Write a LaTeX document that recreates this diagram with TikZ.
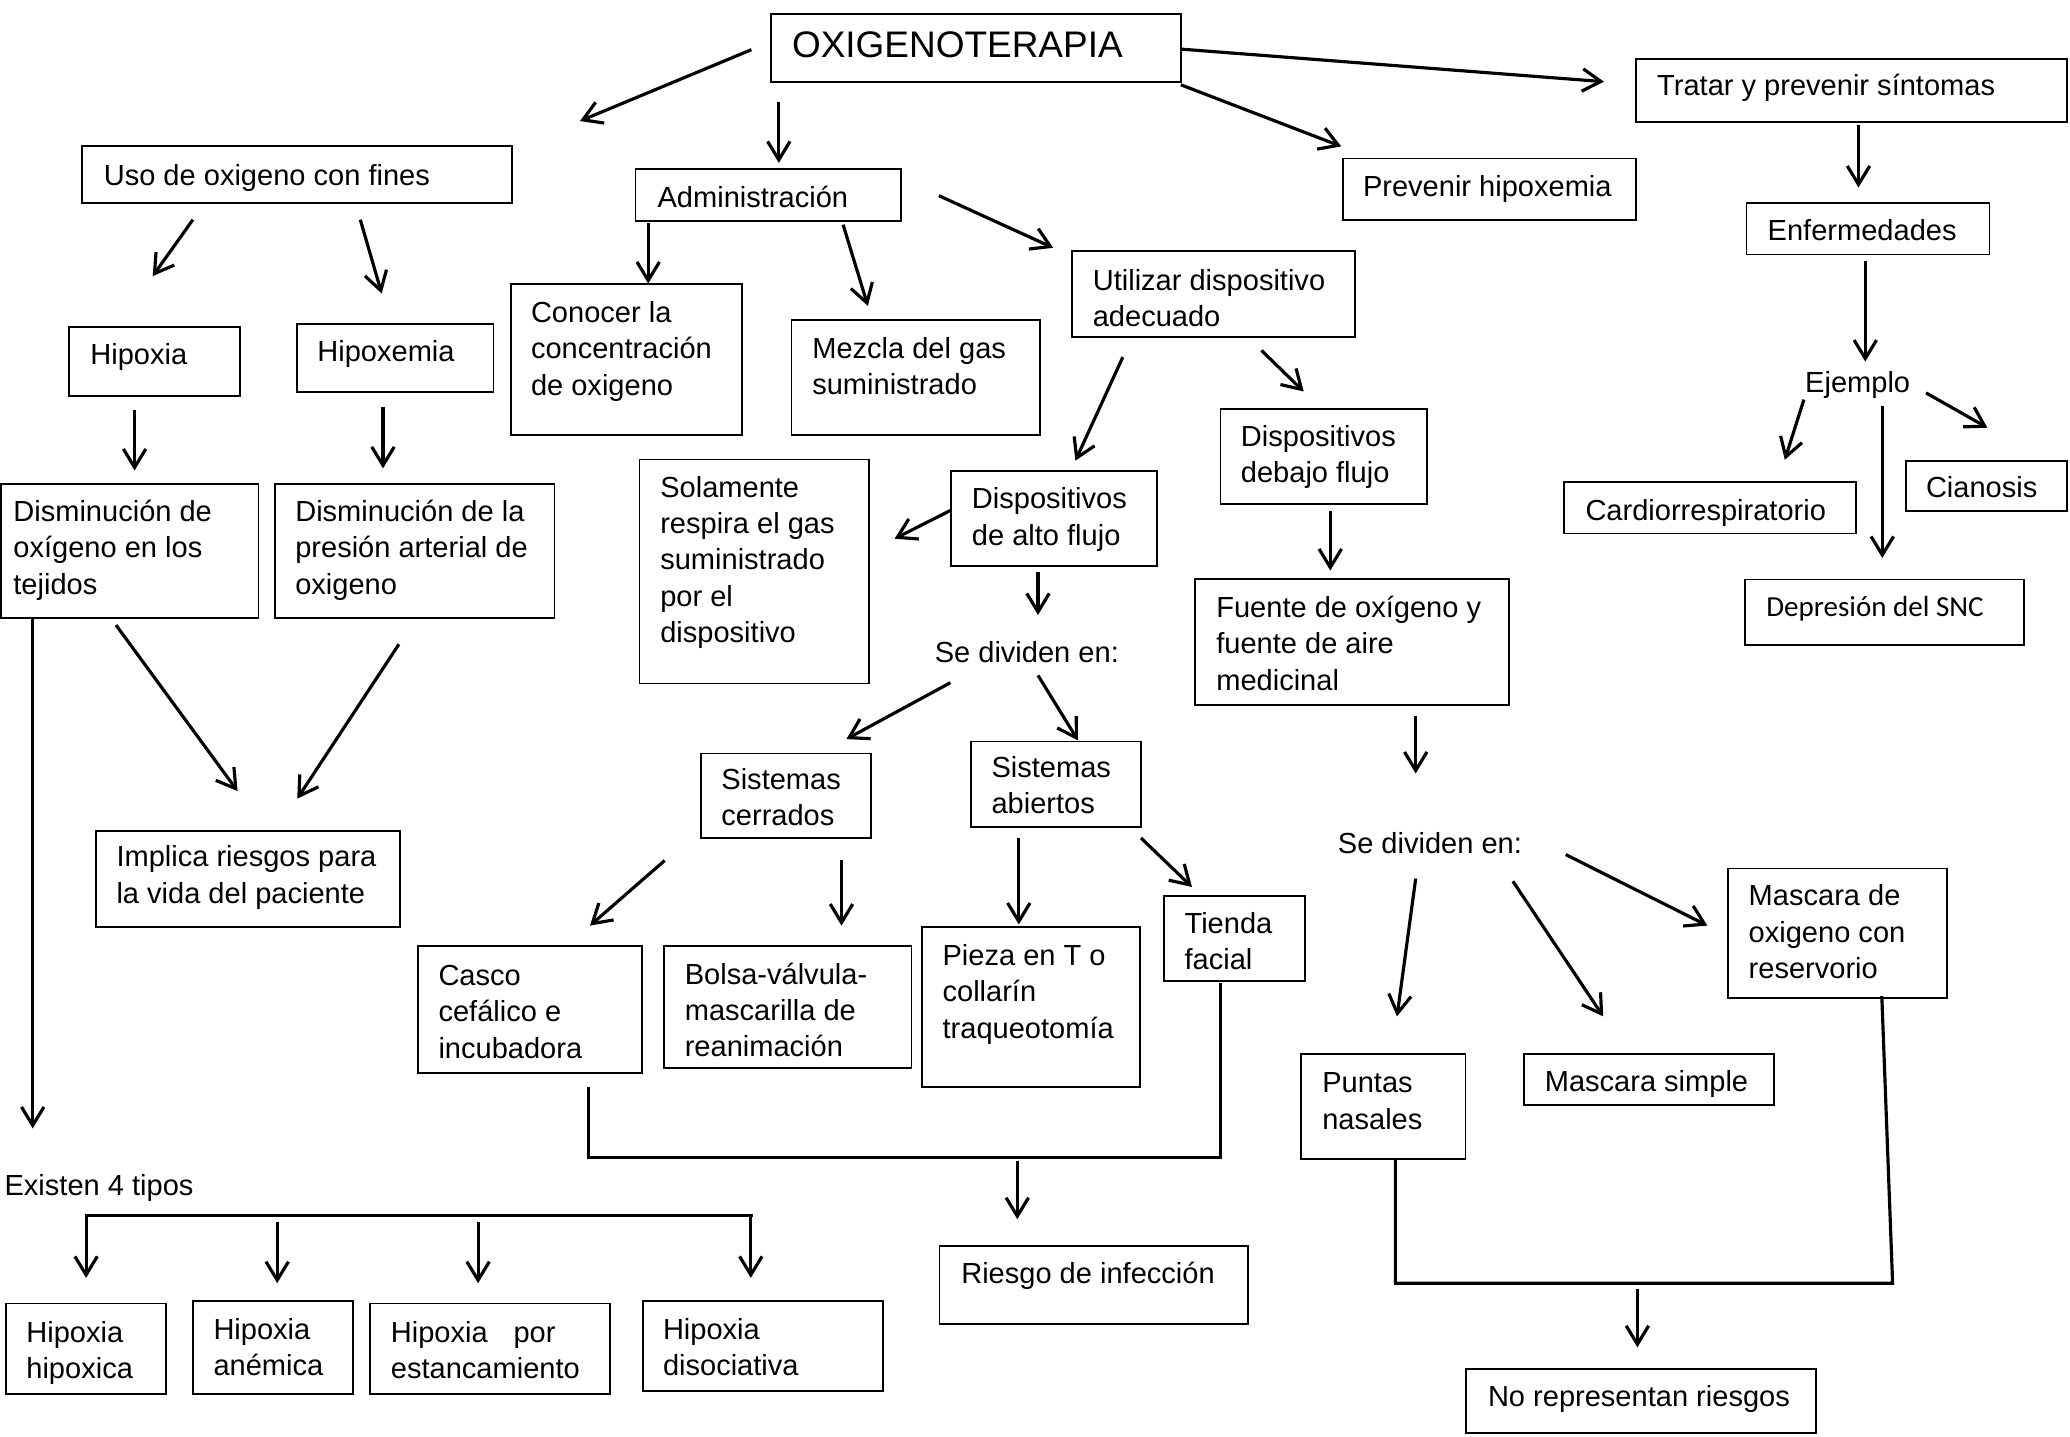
\documentclass[tikz,border=0pt]{standalone}
\usepackage{fontspec}
\setmainfont{Liberation Sans}
\newfontfamily\carl{Carlito}
\usetikzlibrary{arrows.meta}
\newcommand\fs{\fontsize{11}{13.75}\selectfont}
\tikzset{
  bxs/.style={draw, line width=0.7pt, inner sep=0pt, outer sep=0pt},
  txs/.style={anchor=base west, inner sep=0pt, outer sep=0pt, font=\fs},
  arr/.style={-{Straight Barb[length=7pt,width=8.5pt]}, line width=1.2pt},
  brk/.style={line width=1.2pt, line join=miter},
}
\newcommand\mybox[5]{\node[bxs, minimum width={((#4)-(#2))*0.37873pt}, minimum height={((#5)-(#3))*0.37873pt}] (#1) at ({((#2)+(#4))/2},{((#3)+(#5))/2}) {};}
\newcommand\tnode[4]{\node[txs] (#1) at (#2,#3) {\begin{tabular}[t]{@{}l@{}}#4\end{tabular}};}
\newcommand\arw[5]{\coordinate (#1s) at (#2,#3); \coordinate (#1e) at (#4,#5); \draw[arr] (#1s) -- (#1e);}
\begin{document}
\begin{tikzpicture}[x=0.37873pt, y=-0.37873pt]
\path[use as bounding box] (0,0) rectangle (2070,1437);
% boxes
\mybox{oxi}{770.8}{13.7}{1180.8}{81.7}
\node[txs, font=\fontsize{14}{16}\selectfont] (oxit) at (792,58) {OXIGENOTERAPIA};
\mybox{tra}{1636}{59.4}{2067}{121.9}
\tnode{trat}{1657.2}{96}{Tratar y prevenir síntomas}
\mybox{pre}{1342.6}{158.5}{1636}{219.6}
\tnode{pret}{1363}{196.4}{Prevenir hipoxemia}
\mybox{uso}{82.4}{145.9}{511.6}{203.1}
\tnode{usot}{103.8}{185.3}{Uso de oxigeno con fines}
\mybox{adm}{635.5}{169.1}{901.4}{221}
\tnode{admt}{657.6}{207.3}{Administración}
\mybox{uti}{1071.7}{251.3}{1354.9}{337}
\tnode{utit}{1092.8}{290.2}{Utilizar dispositivo\\adecuado}
\mybox{enf}{1746.5}{203.1}{1989.5}{254.5}
\tnode{enft}{1767.7}{241}{Enfermedades}
\mybox{hxa}{69}{327.1}{239.7}{395.9}
\tnode{hxat}{90.4}{364.8}{Hipoxia}
\mybox{hxe}{296.7}{323.8}{493.5}{391.7}
\tnode{hxet}{317.4}{361.9}{Hipoxemia}
\mybox{con}{511}{284.4}{742}{435.3}
\tnode{cont}{531}{322.5}{Conocer la\\concentración\\de oxigeno}
\mybox{mez}{791.5}{320}{1040}{435.3}
\tnode{mezt}{812.3}{358.6}{Mezcla del gas\\suministrado}
\mybox{deb}{1220.5}{409}{1427.2}{504}
\tnode{debt}{1240.9}{446.4}{Dispositivos\\debajo flujo}
\tnode{eje}{1805.2}{392.9}{Ejemplo}
\mybox{cia}{1905.6}{460.7}{2067}{511.2}
\tnode{ciat}{1926}{497.8}{Cianosis}
\mybox{car}{1564.3}{482.1}{1856.4}{533.5}
\tnode{cart}{1585.5}{520}{Cardiorrespiratorio}
\mybox{dep}{1745.2}{579.5}{2023.6}{644.6}
\node[txs, font=\carl\fontsize{11}{13.75}\selectfont] (dept) at (1766.3,616) {Depresión del SNC};
\mybox{sol}{639.5}{459.5}{868.6}{683.5}
\tnode{solt}{660.3}{497.2}{Solamente\\respira el gas\\suministrado\\por el\\dispositivo}
\mybox{alt}{950.6}{471.3}{1157.1}{565.9}
\tnode{altt}{971.9}{508.8}{Dispositivos\\de alto flujo}
\mybox{dm1}{1}{483.8}{258.5}{617.8}
\tnode{dm1t}{13.4}{521.5}{Disminución de\\oxígeno en los\\tejidos}
\mybox{dm2}{275.2}{483.8}{554.5}{617.8}
\tnode{dm2t}{295.3}{521.5}{Disminución de la\\presión arterial de\\oxigeno}
\mybox{fue}{1195.3}{579.3}{1508.7}{705}
\tnode{fuet}{1216.3}{617.5}{Fuente de oxígeno y\\fuente de aire\\medicinal}
\tnode{sdv1}{934.8}{662}{Se dividen en:}
\mybox{cer}{700.9}{753.5}{870.6}{838.2}
\tnode{cert}{721.4}{789.5}{Sistemas\\cerrados}
\mybox{abi}{970.8}{741.5}{1140.6}{826.6}
\tnode{abit}{991.5}{777.6}{Sistemas\\abiertos}
\mybox{imp}{95.9}{830.6}{400}{927.2}
\tnode{impt}{116.5}{866.9}{Implica riesgos para\\la vida del paciente}
\tnode{sdv2}{1337.9}{853.5}{Se dividen en:}
\mybox{res}{1728.4}{868.5}{1947.1}{997.7}
\tnode{rest}{1748.7}{905.9}{Mascara de\\oxigeno con\\reservorio}
\mybox{tie}{1164.3}{895.7}{1305.2}{980.6}
\tnode{tiet}{1184.6}{933.6}{Tienda\\facial}
\mybox{pie}{921.6}{927.2}{1140.2}{1086.8}
\tnode{piet}{942.6}{965.6}{Pieza en T o\\collarín\\traqueotomía}
\mybox{bol}{664.1}{946.4}{911.5}{1068.1}
\tnode{bolt}{684.8}{984.3}{Bolsa-válvula-\\mascarilla de\\reanimación}
\mybox{cas}{418.4}{946.4}{641.7}{1072.9}
\tnode{cast}{438.5}{985.4}{Casco\\cefálico e\\incubadora}
\mybox{pun}{1301.3}{1054.3}{1465.5}{1158.9}
\tnode{punt}{1322.3}{1092.7}{Puntas\\nasales}
\mybox{msi}{1523.8}{1054.3}{1773.6}{1105}
\tnode{msit}{1544.8}{1091.1}{Mascara simple}
\tnode{exi}{4.6}{1195.2}{Existen 4 tipos}
\mybox{rie}{939.5}{1245.9}{1248.4}{1324.3}
\tnode{riet}{961.3}{1283.2}{Riesgo de infección}
\mybox{hh}{5.7}{1303.5}{165.9}{1393.7}
\tnode{hht}{26.4}{1342}{Hipoxia\\hipoxica}
\mybox{ha}{192.9}{1300.9}{353}{1393.7}
\tnode{hat}{213.5}{1339.3}{Hipoxia\\anémica}
\mybox{hp}{370.2}{1303.5}{610.1}{1393.7}
\tnode{hpt}{390.9}{1342}{Hipoxia\hspace*{9.8pt}por\\estancamiento}
\mybox{hd}{642.9}{1300.9}{882.8}{1391.1}
\tnode{hdt}{663}{1339.3}{Hipoxia\\disociativa}
\mybox{nor}{1466.2}{1369.2}{1815.6}{1432.7}
\tnode{nort}{1488}{1406}{No representan riesgos}
% arrows
\arw{a1}{751.4}{49.7}{580}{121}
\arw{a2}{778.8}{101.6}{778.8}{162.9}
\arw{a3}{1180.8}{49.1}{1603.9}{81.7}
\arw{a4}{1180.8}{84.8}{1341.2}{146.4}
\arw{a5}{1858.5}{125}{1858.5}{187.5}
\arw{a6}{1865.3}{261.2}{1865.3}{361.6}
\arw{a7}{1803.9}{399.6}{1784.8}{459.8}
\arw{a8}{1882.3}{406.3}{1882.3}{558}
\arw{a9}{1926}{392.9}{1987.4}{427.7}
\arw{a10}{192.9}{219.7}{152.7}{276.1}
\arw{a11}{360.3}{219.7}{381.7}{293.5}
\arw{a12}{134.6}{409.6}{134.6}{470.5}
\arw{a13}{383}{407}{383}{468.4}
\arw{a14}{648.2}{223}{648.2}{283.5}
\arw{a15}{843.1}{224.7}{867.9}{305.9}
\arw{a16}{938.9}{195.7}{1053.2}{247.8}
\arw{a17}{1122.8}{357.1}{1075.4}{460.7}
\arw{a18}{1261.4}{350.4}{1303.7}{391.5}
\arw{a19}{950.4}{510.5}{894.6}{538.7}
\arw{a20}{1038}{571.9}{1038}{615}
\arw{a21}{1330.3}{511.2}{1330.3}{570.5}
\arw{a22}{1415.7}{716.4}{1415.7}{773.5}
\arw{a23}{116}{625.1}{237.6}{791.1}
\arw{a24}{398.9}{644.3}{297.3}{798.6}
\arw{a25}{32.7}{617.8}{32.7}{1128.5}
\arw{a26}{950.4}{682.7}{846.4}{739.1}
\arw{a27}{1038}{675.4}{1078}{740.4}
\arw{a28}{664.7}{860.5}{590}{925.6}
\arw{a29}{841.5}{860}{841.5}{925.6}
\arw{a30}{1018.8}{838}{1018.8}{924.5}
\arw{a31}{1141}{838}{1192}{887}
\arw{a32}{1415.7}{878.6}{1397}{1016.4}
\arw{a33}{1512.9}{881.3}{1603.2}{1016.4}
\arw{a34}{1565.8}{854.6}{1707.4}{925.6}
% Existen bracket
\draw[brk, line cap=rect] (86.1,1215.5) coordinate (eb1) -- (751.9,1215.5) coordinate (eb2);
\arw{e1}{86.1}{1215.5}{86.1}{1277.9}
\arw{e2}{277.2}{1221.9}{277.2}{1283.2}
\arw{e3}{478.1}{1221.9}{478.1}{1283.2}
\arw{e4}{750.8}{1215.5}{750.8}{1277.9}
% Casco / Tienda bracket
\coordinate (cb1) at (588.3,1086.8);
\coordinate (cb2) at (588.3,1157.8);
\coordinate (cb3) at (1220.4,1157.8);
\coordinate (cb4) at (1220.4,982.7);
\draw[brk] (cb1) -- (cb2) -- (cb3) -- (cb4);
\arw{a36}{1017.3}{1160.5}{1017.3}{1219.2}
% Puntas / Mascara bracket
\coordinate (pb1) at (1395.4,1158.9);
\coordinate (pb2) at (1395.4,1283.2);
\coordinate (pb3) at (1892.6,1283.2);
\coordinate (pb4) at (1881.8,996.1);
\draw[brk] (pb1) -- (pb2) -- (pb3) -- (pb4);
\arw{a37}{1637.4}{1288.6}{1637.4}{1347.3}
\end{tikzpicture}
\end{document}
